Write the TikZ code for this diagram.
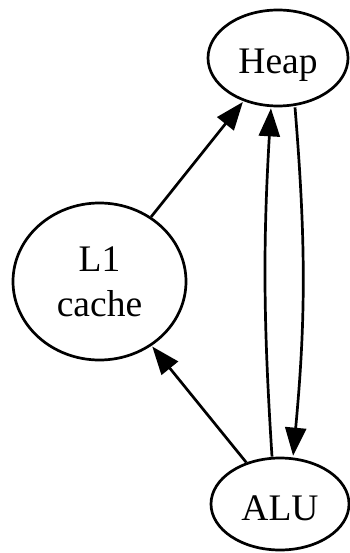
\documentclass[tikz,border=0pt]{standalone}
\usepackage{fontspec}
\setmainfont{Liberation Serif}
\usetikzlibrary{automata,arrows.meta,shapes.geometric}

\begin{document}
\begin{tikzpicture}[x=1pt,y=-1pt,->,>={Triangle[length=28pt,width=21pt]},shorten >=1pt,auto,line width=2.7pt,font=\fontsize{37.5}{45}\selectfont]
  \tikzstyle{every state}=[ellipse,fill=none,draw=black,text=black,inner sep=0pt,align=center]
  \useasboundingbox (0,0) rectangle (349,553);

  \node[state,minimum width=140pt,minimum height=96pt,text height=32pt,text depth=0pt] (Heap) at (278,58) {Heap};
  \node[state,minimum width=173pt,minimum height=157pt] (L1) at (99.5,281.5) {L1\\cache};
  \node[state,minimum width=138pt,minimum height=92pt,text height=32pt,text depth=0pt] (ALU) at (280,504) {ALU};

  \path (L1) edge (Heap);
  \path (ALU) edge (L1);
  \path ([xshift=-8pt]ALU.north) edge[bend left=3.5] ([xshift=-7pt]Heap.south);
  \path ([xshift=17pt]Heap.south) edge[bend left=5] ([xshift=13pt]ALU.north);

\end{tikzpicture}
\end{document}
